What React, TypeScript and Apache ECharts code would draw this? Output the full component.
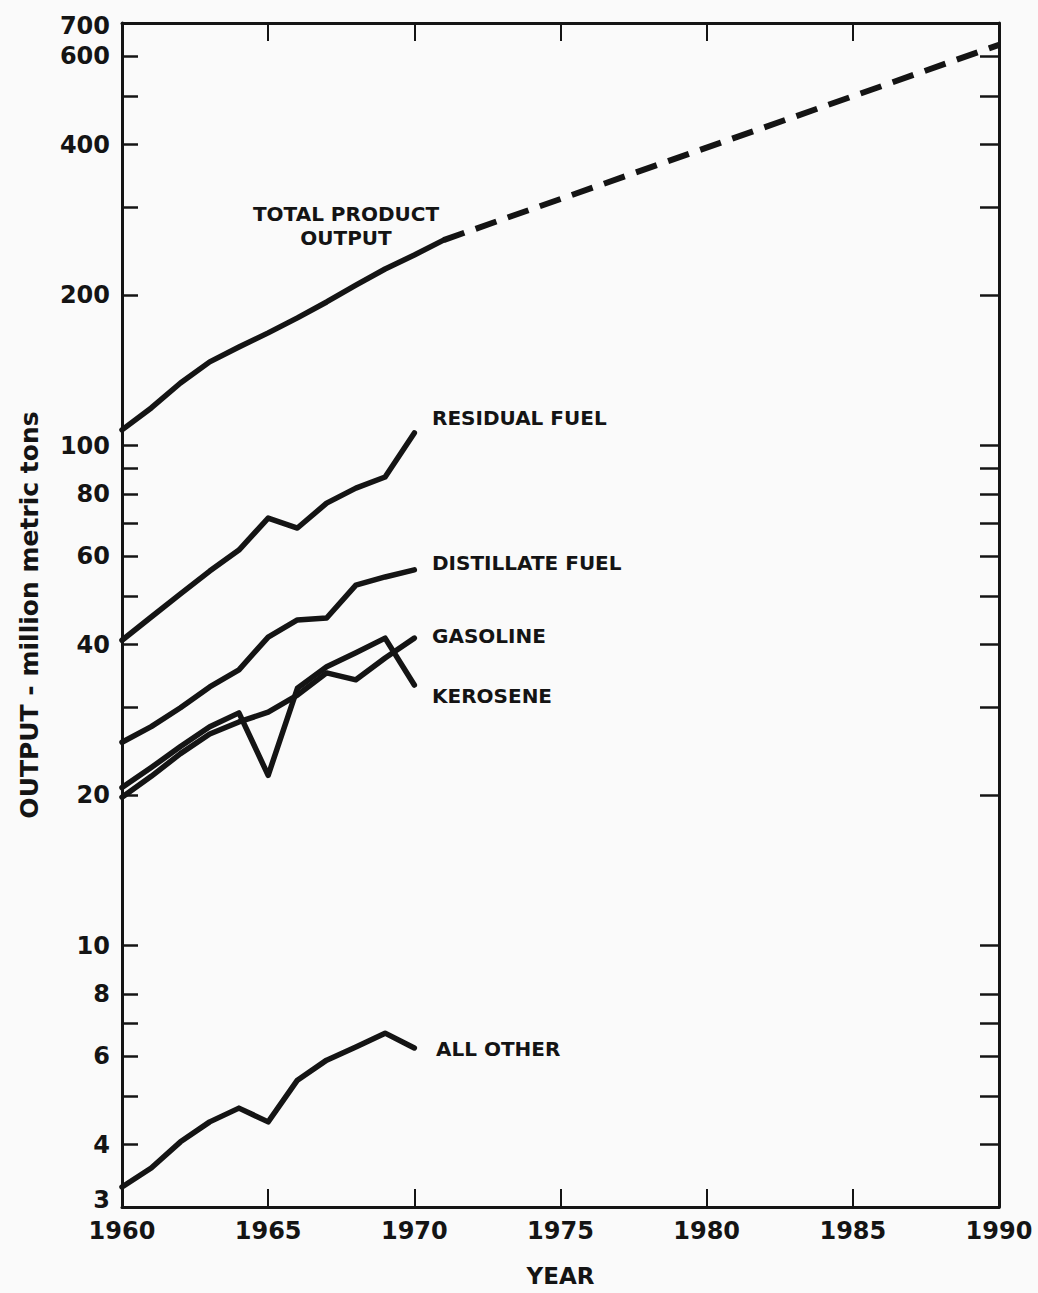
import React, { useEffect, useRef } from "react";
import * as echarts from "echarts";

// ---- data ----
const years = [1960, 1961, 1962, 1963, 1964, 1965, 1966, 1967, 1968, 1969, 1970];
const totalYears = [1960, 1961, 1962, 1963, 1964, 1965, 1966, 1967, 1968, 1969, 1970, 1971];
const totalOutput = [107.5, 118.9, 133.4, 147, 157.4, 168, 180, 193.7, 209.4, 225.5, 240.5, 257.6];
const projectionYears = [1971, 1990];
const projectedOutput = [257.6, 633];
const residualFuel = [40.8, 45.4, 50.5, 56.1, 61.8, 71.6, 68.4, 76.7, 82.2, 86.5, 106];
const distillateFuel = [25.5, 27.4, 29.9, 32.9, 35.6, 41.4, 44.8, 45.2, 52.6, 54.6, 56.4];
const gasoline = [19.8, 21.8, 24.2, 26.5, 28.0, 29.3, 31.7, 35.1, 34.0, 37.6, 41.2];
const kerosene = [20.7, 22.7, 25.0, 27.4, 29.2, 21.9, 32.7, 36.1, 38.5, 41.2, 33.2];
const allOther = [3.29, 3.59, 4.05, 4.44, 4.73, 4.44, 5.38, 5.9, 6.27, 6.68, 6.24];

const yTickValues = [4, 5, 6, 7, 8, 10, 20, 30, 40, 50, 60, 70, 80, 90, 100, 200, 300, 400, 500, 600];
const yLabelValues = [3, 4, 6, 8, 10, 20, 40, 60, 80, 100, 200, 400, 600, 700];

const seriesLabels = ["TOTAL PRODUCT\nOUTPUT", "RESIDUAL FUEL", "DISTILLATE FUEL", "GASOLINE", "KEROSENE", "ALL OTHER"];

export default function App() {
  const ref = useRef<HTMLDivElement>(null);

  useEffect(() => {
    if (!ref.current) return;
    const chart = echarts.init(ref.current, null, { renderer: "svg" });
    const font = "DejaVu Sans";
    const ink = "#141414";
    const pair = (xs: number[], ys: number[]) => xs.map((x, i) => [x, ys[i]]);
    const line = (name: string, xs: number[], ys: number[]) => ({
      type: "line",
      name,
      data: pair(xs, ys),
      symbol: "none",
      showSymbol: false,
      xAxisIndex: 0,
      yAxisIndex: 0,
      z: 5,
      lineStyle: { color: ink, width: 5.5, join: "round", cap: "round" },
    });

    const labelStyle = (text: string, x: number, y: number, align: string) => ({
      type: "text",
      x,
      y,
      style: {
        text,
        fill: ink,
        font: `bold 20px "${font}"`,
        align,
        verticalAlign: "middle",
        lineHeight: 24,
      },
    });

    const xAxisBase = {
      type: "value",
      min: 1960,
      max: 1990,
      interval: 5,
      splitLine: { show: false },
      axisLine: { show: true, onZero: false, lineStyle: { color: ink, width: 3 } },
      axisTick: { show: true, inside: true, length: 18, lineStyle: { color: ink, width: 2 } },
    };
    const yAxisBase = {
      type: "log",
      logBase: 10,
      min: 3,
      max: 700,
      splitLine: { show: false },
      minorTick: { show: false },
      minorSplitLine: { show: false },
      axisLine: { show: true, onZero: false, lineStyle: { color: ink, width: 3 } },
    };

    chart.setOption({
      animation: false,
      backgroundColor: "#fafafa",
      grid: { left: 122, right: 39, top: 23, bottom: 86, containLabel: false },
      xAxis: [
        {
          ...xAxisBase,
          position: "bottom",
          axisLabel: {
            margin: 12,
            fontSize: 24,
            fontWeight: "bold",
            fontFamily: font,
            color: ink,
            formatter: (v: number) => String(v),
          },
          name: "YEAR",
          nameLocation: "middle",
          nameGap: 57,
          nameTextStyle: { fontSize: 23, fontWeight: "bold", fontFamily: font, color: ink },
        },
        {
          ...xAxisBase,
          position: "top",
          axisLabel: { show: false },
        },
      ],
      yAxis: [
        {
          ...yAxisBase,
          position: "left",
          axisTick: {
            show: true,
            inside: true,
            length: 16,
            customValues: yTickValues,
            lineStyle: { color: ink, width: 2.5 },
          },
          axisLabel: {
            show: true,
            customValues: yLabelValues,
            formatter: (v: number) => {
              const r = Math.round(v);
              if (r === 3) return "{low|3}";
              if (r === 700) return "{high|700}";
              return String(r);
            },
            rich: {
              low: {
                fontSize: 24,
                fontWeight: "bold",
                fontFamily: font,
                color: ink,
                padding: [0, 0, 14, 0],
              },
              high: {
                fontSize: 24,
                fontWeight: "bold",
                fontFamily: font,
                color: ink,
                padding: [6, 0, 0, 0],
              },
            },
            margin: 12,
            fontSize: 24,
            fontWeight: "bold",
            fontFamily: font,
            color: ink,
          },
          name: "OUTPUT - million metric tons",
          nameLocation: "middle",
          nameRotate: 90,
          nameGap: 80,
          nameTextStyle: { fontSize: 25, fontWeight: "bold", fontFamily: font, color: ink },
        },
        {
          ...yAxisBase,
          position: "right",
          axisTick: {
            show: true,
            inside: true,
            length: 19,
            customValues: yTickValues,
            lineStyle: { color: ink, width: 2.5 },
          },
          axisLabel: { show: false },
        },
      ],
      series: [
        line("Total product output", totalYears, totalOutput),
        {
          ...line("Total product output (projected)", projectionYears, projectedOutput),
          lineStyle: { color: ink, width: 6, type: [22, 12], cap: "butt" },
        },
        line("Residual fuel", years, residualFuel),
        line("Distillate fuel", years, distillateFuel),
        line("Gasoline", years, gasoline),
        line("Kerosene", years, kerosene),
        line("All other", years, allOther),
      ],
      graphic: [
        labelStyle(seriesLabels[0], 346, 226, "center"),
        labelStyle(seriesLabels[1], 432, 418, "left"),
        labelStyle(seriesLabels[2], 432, 563, "left"),
        labelStyle(seriesLabels[3], 432, 636, "left"),
        labelStyle(seriesLabels[4], 432, 696, "left"),
        labelStyle(seriesLabels[5], 436, 1049, "left"),
      ],
    });

    return () => chart.dispose();
  }, []);

  return (
    <div
      ref={ref}
      style={{ position: "absolute", left: 0, top: 0, width: 1038, height: 1293 }}
    />
  );
}
